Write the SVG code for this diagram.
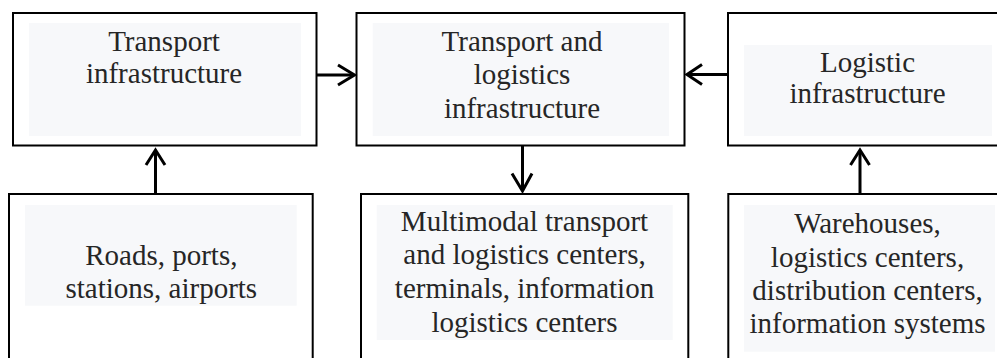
<svg xmlns="http://www.w3.org/2000/svg" width="997" height="358" viewBox="0 0 997 358">
<style>
.box{fill:#ffffff;stroke:#000;stroke-width:2}
.bg{fill:#f7f8fa}
.t{font-family:'Liberation Serif','Times New Roman',Tinos,Times,serif;font-size:29px;fill:#262626;text-anchor:middle}
.ln{fill:none;stroke:#000;stroke-width:3}
.hd{fill:none;stroke:#000;stroke-width:3;stroke-linejoin:miter}
</style>
<rect width="997" height="358" fill="#ffffff"/>
<g id="transport">
<rect class="box" x="13" y="13" width="303.5" height="132.5"/>
<rect class="bg" x="29" y="23" width="272" height="113"/>
<text class="t" x="164" y="51" font-family="Liberation Serif">Transport</text>
<text class="t" x="164" y="83">infrastructure</text>
</g>
<g id="tl">
<rect class="box" x="356.5" y="13" width="328" height="132.5"/>
<rect class="bg" x="372.7" y="23" width="296.3" height="113"/>
<text class="t" x="522" y="50.5">Transport and</text>
<text class="t" x="522" y="84">logistics</text>
<text class="t" x="522" y="117.5">infrastructure</text>
</g>
<g id="logistic">
<rect class="box" x="728" y="13" width="275" height="132.5"/>
<rect class="bg" x="744" y="45" width="248" height="91"/>
<text class="t" x="867.5" y="71.7">Logistic</text>
<text class="t" x="867.5" y="103">infrastructure</text>
</g>
<g id="roads">
<rect class="box" x="9" y="194" width="303.7" height="180"/>
<rect class="bg" x="25" y="205" width="271.7" height="100.7"/>
<text class="t" x="161.3" y="265">Roads, ports,</text>
<text class="t" x="161.3" y="298.3">stations, airports</text>
</g>
<g id="multimodal">
<rect class="box" x="361" y="194" width="327.3" height="180"/>
<rect class="bg" x="376.7" y="205" width="296" height="135"/>
<text class="t" x="524.5" y="231">Multimodal transport</text>
<text class="t" x="524.5" y="264.3">and logistics centers,</text>
<text class="t" x="524.5" y="298.3">terminals, information</text>
<text class="t" x="524.5" y="331.7">logistics centers</text>
</g>
<g id="warehouses">
<rect class="box" x="728.3" y="194" width="275" height="180"/>
<rect class="bg" x="744" y="205" width="251" height="146.7"/>
<text class="t" x="867.5" y="233.3">Warehouses,</text>
<text class="t" x="867.5" y="266.7">logistics centers,</text>
<text class="t" x="867.5" y="300">distribution centers,</text>
<text class="t" x="867.5" y="333.3">information systems</text>
</g>
<g id="connectors">
<path class="ln" d="M316.5 75 H354"/>
<path class="hd" d="M338 65 L354.5 75 L338 85"/>
<path class="ln" d="M728 74.5 H688"/>
<path class="hd" d="M702 64.5 L687 74.5 L702 84.5"/>
<path class="ln" d="M155.5 194 V151"/>
<path class="hd" d="M146 165 L155.5 150 L165 165"/>
<path class="ln" d="M522.5 145.5 V190"/>
<path class="hd" d="M512 173.5 L522.5 191 L532 173.5"/>
<path class="ln" d="M860 194 V151"/>
<path class="hd" d="M850.5 165 L860 150 L869.5 165"/>
</g>
</svg>
